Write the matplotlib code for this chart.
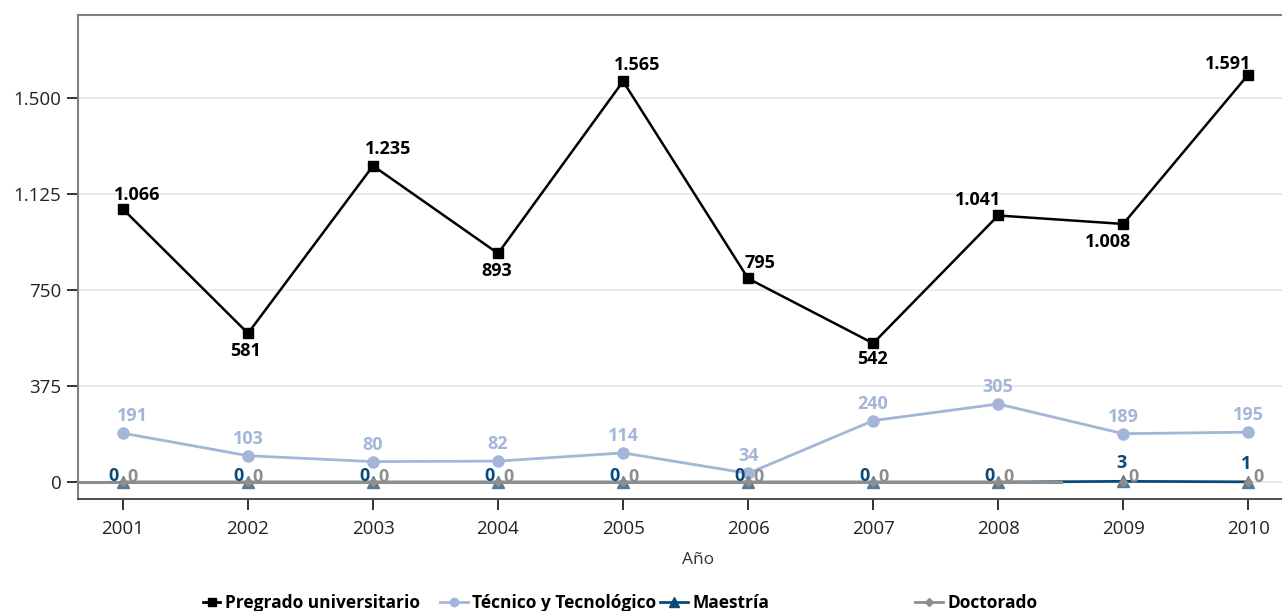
import matplotlib.pyplot as plt
from matplotlib.lines import Line2D

plt.rcParams['font.family'] = ['Open Sans', 'DejaVu Sans']

years = [2001, 2002, 2003, 2004, 2005, 2006, 2007, 2008, 2009, 2010]
pregrado = [1066, 581, 1235, 893, 1565, 795, 542, 1041, 1008, 1591]
tecnico = [191, 103, 80, 82, 114, 34, 240, 305, 189, 195]
maestria = [0, 0, 0, 0, 0, 0, 0, 0, 3, 1]
doctorado = [0, 0, 0, 0, 0, 0, 0, 0, 0, 0]

ytick_vals = [0, 375, 750, 1125, 1500]
ytick_labels = ['0', '375', '750', '1.125', '1.500']

c_pre = '#000000'
c_tec = '#a3b6d8'
c_mae = '#0b4a78'
c_mae_mk = '#587a92'
c_doc = '#8e8e8e'

def fmt(v):
    return f"{v:,}".replace(",", ".")

W, H = 1282, 611
fig = plt.figure(figsize=(W / 100, H / 100), dpi=100)
ax = fig.add_axes([0.0608, 0.1833, 0.9392, 0.7922])

ax.plot(years, tecnico, color=c_tec, lw=2, marker='o', ms=8, zorder=3)
ax.plot(years, maestria, color=c_mae, lw=2, marker='^', ms=8,
        mfc=c_mae_mk, mec=c_mae_mk, zorder=4)
ax.plot([2000.64] + years[:8] + [2008.5], [0] * 10, color=c_doc, lw=2.2, zorder=5)
ax.plot(years, doctorado, color=c_doc, lw=0, marker='D', ms=4, zorder=5)
ax.plot(years, pregrado, color=c_pre, lw=1.8, marker='s', ms=7.5, zorder=6)

# data labels
pre_off = [(14, 14), (-2, -18), (15, 17), (-1, -18), (14, 16),
           (12, 15), (-1, -16), (-20, 15), (-15, -18), (-20, 11)]
for x, v, o in zip(years, pregrado, pre_off):
    ax.annotate(fmt(v), (x, v), xytext=o, textcoords='offset pixels',
                ha='center', va='center', fontsize=13, fontweight='bold',
                color=c_pre, zorder=7)

for i, (x, v) in enumerate(zip(years, tecnico)):
    dx = 9 if i == 0 else 0
    ax.annotate(fmt(v), (x, v), xytext=(dx, 17), textcoords='offset pixels',
                ha='center', va='center', fontsize=13, fontweight='bold',
                color=c_tec, zorder=7)

for x, v in zip(years, maestria):
    o = (-9, 6) if v == 0 else (-2, 18)
    ax.annotate(fmt(v), (x, v), xytext=o, textcoords='offset pixels',
                ha='center', va='center', fontsize=13, fontweight='bold',
                color=c_mae, zorder=7)

for x, v in zip(years, doctorado):
    ax.annotate(fmt(v), (x, v), xytext=(10, 5), textcoords='offset pixels',
                ha='center', va='center', fontsize=13, fontweight='bold',
                color=c_doc, zorder=7)

ax.set_xlim(2000.64, 2010.27)
ax.set_ylim(-66, 1824)
ax.set_xticks(years)
ax.set_yticks(ytick_vals)
ax.set_yticklabels(ytick_labels)
ax.tick_params(axis='both', labelsize=13.5, colors='#222222', length=8, width=1.3)
ax.tick_params(axis='x', pad=7)
ax.tick_params(axis='y', pad=4)
ax.grid(axis='y', color='#e6e6e6', lw=1.2, zorder=0)
ax.set_axisbelow(True)

for s in ['left', 'top']:
    ax.spines[s].set_color('#808080')
    ax.spines[s].set_linewidth(1.5)
ax.spines['bottom'].set_color('#404040')
ax.spines['bottom'].set_linewidth(1.3)
ax.spines['right'].set_visible(False)

ax.set_xlabel('Año', fontsize=12.5, color='#333333')
ax.xaxis.set_label_coords(0.515, -0.11)

# legend, one entry at a time so the gaps match
entries = [
    (Line2D([], [], color=c_pre, lw=2, marker='s', ms=6), 'Pregrado universitario', 203, 1.0),
    (Line2D([], [], color=c_tec, lw=2, marker='o', ms=6), 'Técnico y Tecnológico', 440, 1.6),
    (Line2D([], [], color=c_mae, lw=2, marker='^', ms=7), 'Maestría', 660, 1.6),
    (Line2D([], [], color=c_doc, lw=2, marker='D', ms=4), 'Doctorado', 915, 1.6),
]
for h, lab, px, hl in entries:
    fig.legend([h], [lab], loc='center left', bbox_to_anchor=(px / W, 0.013),
               frameon=False, handlelength=hl, handletextpad=0.25,
               borderpad=0, borderaxespad=0,
               prop={'size': 12.5, 'weight': 'bold'})

fig.savefig('out.png', dpi=100)
